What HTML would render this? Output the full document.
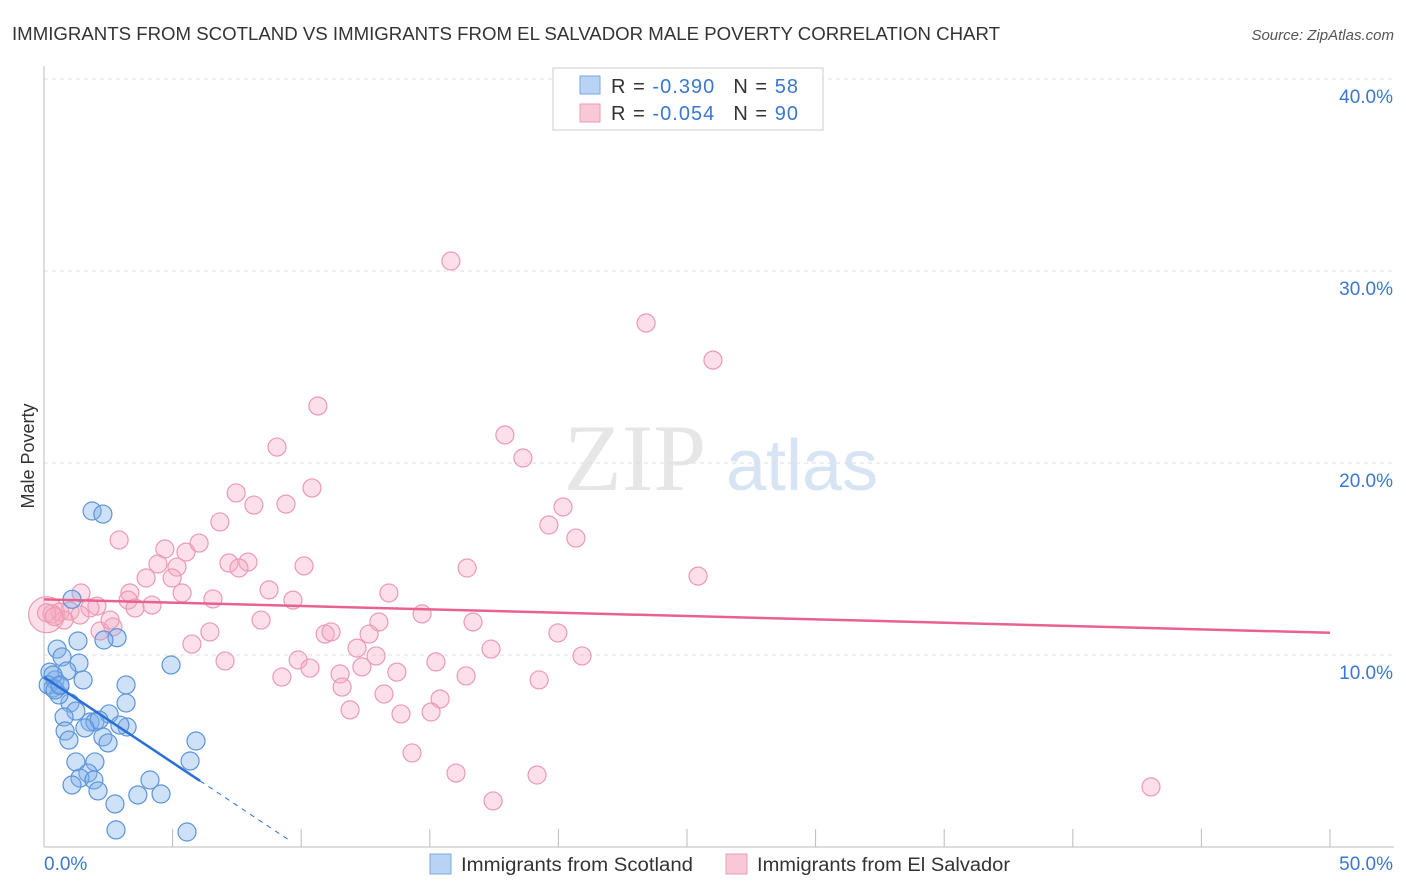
<!DOCTYPE html>
<html><head><meta charset="utf-8"><style>
body{margin:0;background:#fff;font-family:"Liberation Sans",sans-serif;}
#wrap{position:relative;width:1406px;height:892px;overflow:hidden;}
</style></head><body>
<div id="wrap">
<svg id="svg" width="1406" height="892" xmlns="http://www.w3.org/2000/svg">
<text x="12" y="40" font-size="18" fill="#333" textLength="988" lengthAdjust="spacingAndGlyphs">IMMIGRANTS FROM SCOTLAND VS IMMIGRANTS FROM EL SALVADOR MALE POVERTY CORRELATION CHART</text>
<text x="1394" y="40" font-size="15" fill="#555" font-style="italic" text-anchor="end">Source: ZipAtlas.com</text>
<text x="34" y="456" font-size="18" fill="#333" text-anchor="middle" transform="rotate(-90 34 456)">Male Poverty</text>
<g><text x="635" y="490" font-size="95" fill="#dcdcdc" font-family="Liberation Serif,serif" text-anchor="middle" opacity="0.7">ZIP</text><text x="802" y="490" font-size="72" fill="#c7d9f0" text-anchor="middle" opacity="0.7">atlas</text></g>
<g id="grid"></g><g id="axes"></g><g id="marks"></g>
<g>
<rect x="553" y="68" width="270" height="62" fill="#fff" stroke="#ccc"/>
<rect x="580" y="76" width="20" height="18" fill="#b8d3f3" stroke="#7aa8e0"/>
<rect x="580" y="104" width="20" height="18" fill="#f9c8d7" stroke="#eb9ab3"/>
<text x="611" y="93" font-size="20" fill="#333" textLength="187" lengthAdjust="spacing">R = <tspan fill="#3a78d0">-0.390</tspan><tspan dx="18">N = </tspan><tspan fill="#3a78d0">58</tspan></text>
<text x="611" y="120" font-size="20" fill="#333" textLength="187" lengthAdjust="spacing">R = <tspan fill="#3a78d0">-0.054</tspan><tspan dx="18">N = </tspan><tspan fill="#3a78d0">90</tspan></text>
</g>
<g>
<rect x="430" y="854" width="21" height="20" fill="#b8d3f3" stroke="#7aa8e0"/>
<text x="461" y="871" font-size="19" fill="#333" textLength="232" lengthAdjust="spacingAndGlyphs">Immigrants from Scotland</text>
<rect x="726" y="854" width="21" height="20" fill="#f9c8d7" stroke="#eb9ab3"/>
<text x="757" y="871" font-size="19" fill="#333" textLength="253" lengthAdjust="spacingAndGlyphs">Immigrants from El Salvador</text>
</g>
</svg>
</div>
<script>
const yTicks=[10,20,30,40];
const yTickLabels=["10.0%","20.0%","30.0%","40.0%"];
const xTicks=[0,5,10,15,20,25,30,35,40,45,50];
const blueX=[1.87,2.29,1.09,2.84,1.32,0.51,0.70,1.36,0.23,0.89,0.43,0.62,1.52,0.35,3.19,4.94,1.01,0.58,1.24,3.19,0.78,2.53,1.79,1.98,2.14,1.59,3.23,0.82,2.29,0.97,2.49,5.91,1.24,1.98,5.68,1.71,1.40,1.09,1.94,4.12,2.10,3.65,4.55,2.76,2.80,5.56,0.35,0.16,0.43,0.62,2.33,2.95];
const blueY=[17.5,17.34,12.9,10.9,10.73,10.31,9.9,9.58,9.11,9.17,8.70,8.39,8.70,8.28,8.44,9.48,7.5,7.92,7.08,7.5,6.77,6.93,6.51,6.51,6.61,6.2,6.25,6.04,5.73,5.57,5.42,5.52,4.43,4.43,4.48,3.85,3.59,3.23,3.49,3.49,2.92,2.71,2.76,2.24,0.89,0.78,8.96,8.44,8.18,8.44,10.78,6.35];
const pinkX=[15.82,23.41,26.01,10.65,17.92,9.06,18.62,7.47,10.42,8.16,9.41,20.18,19.63,6.84,2.92,20.68,4.70,5.52,6.03,4.43,10.11,7.93,16.45,7.19,7.58,5.17,3.97,4.98,25.43,8.75,13.41,3.34,1.44,4.2,5.37,3.27,6.57,9.68,2.06,3.54,14.70,16.68,8.44,1.79,1.01,0.62,1.40,0.78,2.68,2.18,6.45,10.93,11.16,13.02,19.98,12.64,17.38,5.75,12.17,9.88,7.04,15.24,20.92,12.91,12.36,10.34,13.72,16.41,9.25,11.51,11.59,19.25,13.22,15.40,11.9,13.88,15.05,14.31,16.02,19.17,17.46,43.04,0.31,2.57,0.1,0.4];
const pinkY=[30.52,27.29,25.36,22.97,21.46,20.83,20.26,18.44,18.7,17.81,17.86,17.71,16.77,16.93,15.99,16.09,15.52,15.36,15.83,14.74,14.64,14.84,14.53,14.79,14.53,14.58,14.01,14.01,14.11,13.39,13.23,13.23,13.23,12.6,13.23,12.86,12.92,12.86,12.55,12.45,12.14,11.72,11.82,12.45,12.29,12.24,12.08,11.82,11.46,11.25,11.2,11.09,11.2,11.72,11.15,11.09,10.31,10.57,10.36,9.74,9.69,9.64,9.95,9.95,9.38,9.32,9.11,8.91,8.85,9.01,8.33,8.7,7.97,7.71,7.14,6.93,7.03,4.9,3.85,3.75,2.4,3.13,12.14,11.82,12.2,12.0];
const bigPinkX=[0.1], bigPinkY=[12.1];
const pinkTrend=[12.9,11.16];   // y at x=0 and x=50
const blueTrend=[8.85,-0.891];  // intercept, slope
const blueSolidEnd=6.07, blueDashEnd=9.6;

const X=v=>44+v*25.72, Y=v=>847-v*19.2;
const NS="http://www.w3.org/2000/svg";
function mk(tag,attrs,parent){const e=document.createElementNS(NS,tag);for(const k in attrs)e.setAttribute(k,attrs[k]);parent.appendChild(e);return e;}
const grid=document.getElementById('grid'),axes=document.getElementById('axes'),marks=document.getElementById('marks');
yTicks.forEach((t,i)=>{
  const l=mk('line',{x1:44,x2:1394,y1:Y(t),y2:Y(t),stroke:'#ddd','stroke-dasharray':'4,4'},grid);
  
  
  const tx=mk('text',{x:1393,y:Y(t)+24,'font-size':19,fill:'#3a78d0','text-anchor':'end'},axes);
  tx.textContent=yTickLabels[i];
  
  
});
const ax=mk('line',{x1:44,x2:1394,y1:847,y2:847,stroke:'#bbb'},axes);


const ay=mk('line',{x1:44,x2:44,y1:66,y2:847,stroke:'#bbb'},axes);


xTicks.forEach(t=>{
  const l=mk('line',{x1:X(t),x2:X(t),y1:829,y2:847,stroke:'#bbb'},axes);
  
  
});
const xl0=mk('text',{x:44,y:870,'font-size':19,fill:'#3a78d0'},axes);xl0.textContent='0.0%';


const xl1=mk('text',{x:1393,y:870,'font-size':19,fill:'#3a78d0','text-anchor':'end'},axes);xl1.textContent='50.0%';



bigPinkX.forEach((x,i)=>{
  const c=mk('circle',{cx:X(x),cy:Y(bigPinkY[i]),r:18,fill:'rgba(246,170,195,0.38)',stroke:'#eb9ab3','stroke-width':1.2},marks);
  
  
});
pinkX.forEach((x,i)=>{
  const c=mk('circle',{cx:X(x),cy:Y(pinkY[i]),r:9,fill:'rgba(246,170,195,0.38)',stroke:'#eb9ab3','stroke-width':1.2},marks);
  
  
});
blueX.forEach((x,i)=>{
  const c=mk('circle',{cx:X(x),cy:Y(blueY[i]),r:9,fill:'rgba(130,175,235,0.38)',stroke:'#5a94dc','stroke-width':1.2},marks);
  
  
});
const pl=mk('line',{x1:X(0),y1:Y(pinkTrend[0]),x2:X(50),y2:Y(pinkTrend[1]),stroke:'#e8628e','stroke-width':2.5},marks);


const bl=mk('line',{x1:X(0),y1:Y(blueTrend[0]),x2:X(blueSolidEnd),y2:Y(blueTrend[0]+blueTrend[1]*blueSolidEnd),stroke:'#2a6fd6','stroke-width':2.5},marks);


const bd=mk('line',{x1:X(blueSolidEnd),y1:Y(blueTrend[0]+blueTrend[1]*blueSolidEnd),x2:X(blueDashEnd),y2:Y(blueTrend[0]+blueTrend[1]*blueDashEnd),stroke:'#2a6fd6','stroke-width':1,'stroke-dasharray':'5,5'},marks);


</script>
</body></html>
